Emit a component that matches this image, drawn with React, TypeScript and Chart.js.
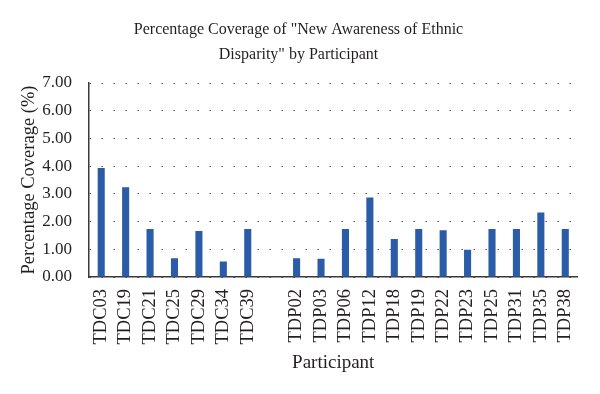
import React, { useEffect, useRef } from "react";
import { Chart, registerables } from "chart.js";

Chart.register(...registerables);

const categories: string[] = [
  "TDC03", "TDC19", "TDC21", "TDC25", "TDC29", "TDC34", "TDC39",
  "",
  "TDP02", "TDP03", "TDP06", "TDP12", "TDP18", "TDP19", "TDP22", "TDP23", "TDP25", "TDP31", "TDP35", "TDP38",
];

const coverage: (number | null)[] = [
  3.93, 3.24, 1.73, 0.68, 1.66, 0.56, 1.73,
  null,
  0.68, 0.66, 1.73, 2.87, 1.37, 1.73, 1.69, 0.98, 1.73, 1.73, 2.33, 1.73,
];

const titleLines: string[] = [
  'Percentage Coverage of "New Awareness of Ethnic',
  'Disparity" by Participant',
];

const FONT = "'Liberation Serif', 'DejaVu Serif', serif";
const TEXT = "#231f20";

export default function App() {
  const ref = useRef<HTMLCanvasElement | null>(null);

  useEffect(() => {
    document.body.style.margin = "0";
    if (!ref.current) return;
    const chart = new Chart(ref.current, {
      type: "bar",
      data: {
        labels: categories,
        datasets: [
          {
            label: "Percentage Coverage",
            data: coverage,
            backgroundColor: "#2b5ca8",
            borderWidth: 0,
            barPercentage: 0.29,
            categoryPercentage: 1,
          },
        ],
      },
      options: {
        animation: false,
        responsive: false,
        maintainAspectRatio: false,
        layout: { padding: { top: 17, right: 21, bottom: 0, left: 18 } },
        plugins: {
          legend: { display: false },
          tooltip: { enabled: false },
          title: {
            display: true,
            text: titleLines,
            color: TEXT,
            font: { family: FONT, size: 16, weight: "normal", lineHeight: 1.5625 },
            padding: { top: 0, bottom: 16 },
          },
        },
        scales: {
          x: {
            grid: { display: false, drawTicks: false },
            border: { display: true, color: "#3a3a3a", width: 1.5 },
            ticks: {
              color: TEXT,
              font: { family: FONT, size: 18.5 },
              minRotation: 90,
              maxRotation: 90,
              autoSkip: false,
              padding: 12,
            },
            title: {
              display: true,
              text: "Participant",
              color: TEXT,
              font: { family: FONT, size: 19 },
              padding: { top: 0, bottom: 20 },
            },
            afterFit: (scale: any) => {
              scale.height = 117;
            },
          },
          y: {
            min: 0,
            max: 7,
            grid: { color: "#555555", lineWidth: 1, drawTicks: false },
            border: { display: true, color: "#3a3a3a", width: 1.5, dash: [1.5, 10.5] },
            ticks: {
              stepSize: 1,
              color: TEXT,
              font: { family: FONT, size: 17 },
              padding: 17,
              callback: (v: any) => Number(v).toFixed(2),
            },
            title: {
              display: true,
              text: "Percentage Coverage (%)",
              color: TEXT,
              font: { family: FONT, size: 18.5 },
              padding: { top: 0, bottom: 4 },
            },
            afterFit: (scale: any) => {
              scale.width = 71;
            },
          },
        },
      },
    });
    return () => chart.destroy();
  }, []);

  return (
    <div style={{ position: "absolute", left: 0, top: 0, width: 600, height: 394, background: "#fff" }}>
      <canvas ref={ref} width={600} height={394} style={{ width: 600, height: 394 }} />
    </div>
  );
}
